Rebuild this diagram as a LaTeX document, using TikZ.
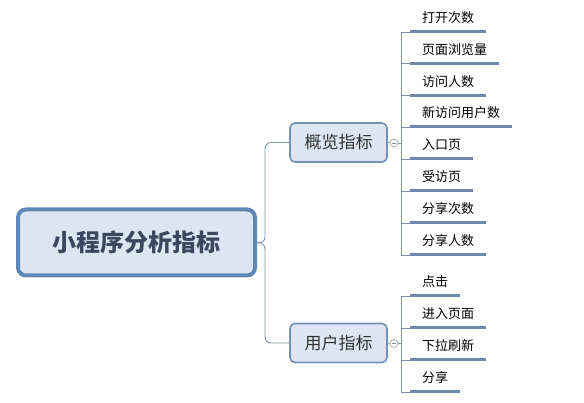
\documentclass[tikz,border=0pt]{standalone}
\usepackage{fontspec}
\setmainfont{Noto Sans CJK SC}
\usetikzlibrary{positioning}

\definecolor{rootline}{HTML}{5F88B8}
\definecolor{rootfill}{HTML}{DCE6F2}
\definecolor{roottext}{HTML}{3A475F}
\definecolor{boxline}{HTML}{7491B8}
\definecolor{linkgrey}{HTML}{8592A6}
\definecolor{uline}{HTML}{6F88AB}

\tikzset{
  rootbox/.style={draw=rootline,fill=rootfill,line width=4pt,rounded corners=8pt,
                  minimum width=237pt,minimum height=66pt,text=roottext,
                  font=\fontsize{24}{28}\selectfont\bfseries},
  branchbox/.style={draw=boxline,fill=rootfill,line width=1.6pt,rounded corners=5pt,
                    minimum width=97pt,minimum height=39pt,text=black!80,
                    font=\fontsize{17}{20}\selectfont},
  fold/.style={circle,draw=linkgrey!80,fill=white,line width=0.7pt,minimum size=8pt,inner sep=0pt,
               path picture={\draw[linkgrey,line width=0.7pt] ([xshift=-2pt]path picture bounding box.center)
                             -- ([xshift=2pt]path picture bounding box.center);}},
  leaf/.style={anchor=south west,inner xsep=12pt,inner ysep=7pt,text height=11pt,text depth=2pt,
               font=\fontsize{13}{15}\selectfont,
               append after command={\pgfextra{\let\lastnode\tikzlastnode}
                 (\lastnode.south west) edge[draw=uline,line width=3pt] (\lastnode.south east)}},
  link/.style={draw=linkgrey,line width=0.9pt}
}

\begin{document}
\begin{tikzpicture}[x=1pt,y=-1pt]
\useasboundingbox (0,0) rectangle (584,403);

% main topic and the two branches
\node[rootbox] (root) at (136.5,242.5) {小程序分析指标};
\node[branchbox] (ovw) at (338.5,142.5) {概览指标};
\node[branchbox] (usr) at (338.5,343) {用户指标};
\node[fold] (fovw) at (394,143) {};
\node[fold] (fusr) at (394,343.5) {};

\coordinate (fork) at (265,243);
\coordinate (sovw) at (401,143);
\coordinate (susr) at (401,343.5);

% leaves of the first branch
\node[leaf] (a1) at (410,32) {打开次数};
\node[leaf] (a2) at (410,63.5) {页面浏览量};
\node[leaf] (a3) at (410,95.5) {访问人数};
\node[leaf] (a4) at (410,127) {新访问用户数};
\node[leaf] (a5) at (410,159) {入口页};
\node[leaf] (a6) at (410,191) {受访页};
\node[leaf] (a7) at (410,223) {分享次数};
\node[leaf] (a8) at (410,255) {分享人数};

% leaves of the second branch
\node[leaf] (b1) at (410,296) {点击};
\node[leaf] (b2) at (410,328) {进入页面};
\node[leaf] (b3) at (410,360) {下拉刷新};
\node[leaf] (b4) at (410,392) {分享};

\begin{scope}[link]
    \draw[rounded corners=6pt] (root.east) -- (fork) |- (ovw.west);
    \draw[rounded corners=6pt] (root.east) -- (fork) |- (usr.west);
    \draw (ovw.east) -- (fovw.west);
    \draw (usr.east) -- (fusr.west);
    \foreach \n in {a1,a2,a3,a4,a5,a6,a7,a8}
        \draw (fovw.east) -- (sovw) |- (\n.south west);
    \foreach \n in {b1,b2,b3,b4}
        \draw (fusr.east) -- (susr) |- (\n.south west);
\end{scope}
\end{tikzpicture}
\end{document}
